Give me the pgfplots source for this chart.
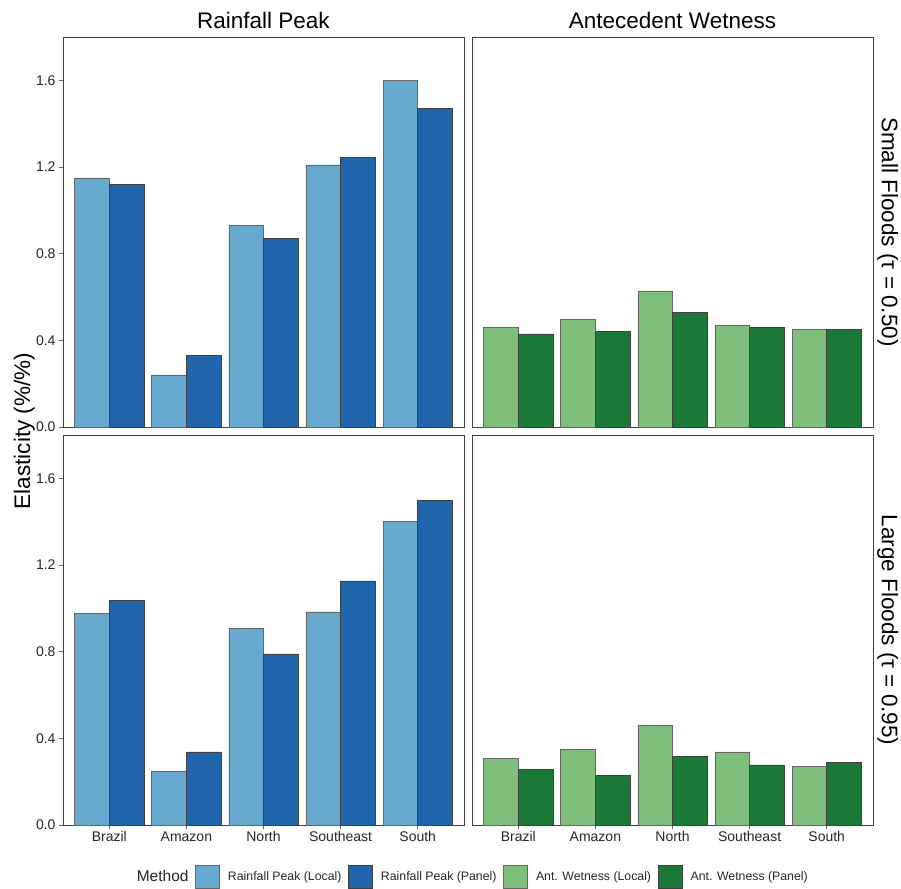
\documentclass[border=0pt]{standalone}
\usepackage{pgfplots}
\pgfplotsset{compat=1.18}
\usepackage{fontspec}
\setmainfont{Liberation Sans}
\definecolor{rpl}{HTML}{67A9CF}
\definecolor{rpp}{HTML}{2166AC}
\definecolor{awl}{HTML}{7FBF7B}
\definecolor{awp}{HTML}{1B7837}
\pgfplotsset{
  panel/.style={
    width=401pt, height=390pt, scale only axis, anchor=south west, clip=false,
    xmin=0.4, xmax=5.6, ymin=0, ymax=1.8,
    axis line style={draw=black!75, line width=0.7pt},
    tick align=outside, major tick length=4pt,
    tick style={draw=black!60, line width=0.6pt},
    xtick pos=bottom, ytick pos=left,
    ytick={0,0.4,0.8,1.2,1.6},
    yticklabel style={/pgf/number format/.cd, fixed, fixed zerofill, precision=1},
    /pgf/number format/assume math mode=true,
    tick label style={font=\fontsize{14}{16}\selectfont, text=black!85},
    xticklabel style={yshift=1pt},
    xtick={1,2,3,4,5}, xticklabels={Brazil,Amazon,North,Southeast,South},
  },
  barL/.style={ybar, bar width=0.45, bar shift=-0.225, draw=black!60, line width=0.5pt, forget plot},
  barP/.style={ybar, bar width=0.45, bar shift=0.225, draw=black!75, line width=0.5pt, forget plot},
  lgA/.style={legend image code/.code={\draw[fill=rpl,draw=black!60,line width=0.5pt] (0pt,-11.5pt) rectangle (24pt,11.5pt);}},
  lgB/.style={legend image code/.code={\draw[fill=rpp,draw=black!75,line width=0.5pt] (0pt,-11.5pt) rectangle (24pt,11.5pt);}},
  lgC/.style={legend image code/.code={\draw[fill=awl,draw=black!60,line width=0.5pt] (0pt,-11.5pt) rectangle (24pt,11.5pt);}},
  lgD/.style={legend image code/.code={\draw[fill=awp,draw=black!75,line width=0.5pt] (0pt,-11.5pt) rectangle (24pt,11.5pt);}},
}
\newcommand{\titlefont}{\fontsize{22.5}{26}\selectfont}
\begin{document}
\begin{tikzpicture}
\path[use as bounding box] (0pt,0pt) rectangle (901pt,888pt);
% top-left
\begin{axis}[panel, at={(63pt,461pt)}, xtick=\empty]
\addplot[barL, fill=rpl] coordinates {(1,1.15) (2,0.24) (3,0.93) (4,1.21) (5,1.60)};
\addplot[barP, fill=rpp] coordinates {(1,1.12) (2,0.33) (3,0.87) (4,1.245) (5,1.47)};
\node[font=\titlefont, anchor=base] at (rel axis cs:0.5,1) [yshift=8.5pt] {Rainfall Peak};
\end{axis}
% top-right
\begin{axis}[panel, at={(472pt,461pt)}, xtick=\empty, ytick=\empty]
\addplot[barL, fill=awl] coordinates {(1,0.46) (2,0.497) (3,0.628) (4,0.47) (5,0.45)};
\addplot[barP, fill=awp] coordinates {(1,0.43) (2,0.441) (3,0.529) (4,0.46) (5,0.45)};
\node[font=\titlefont, anchor=base] at (rel axis cs:0.5,1) [yshift=8.5pt] {Antecedent Wetness};
\node[xshift=4pt, rotate=-90, font=\titlefont, anchor=south, inner sep=0pt] at (rel axis cs:1,0.5) {Small Floods (τ = 0.50)};
\end{axis}
% bottom-left
\begin{axis}[panel, at={(63pt,63pt)},
  legend style={draw=none, fill=none, at={(1.0125,-0.1333)}, anchor=center,
    font=\fontsize{12.3}{14}\selectfont, text=black!85,
    /tikz/every odd column/.append style={column sep=6.5pt},
    /tikz/every even column/.append style={column sep=4.5pt}},
  legend columns=5, legend cell align=left]
\addlegendimage{empty legend}
\addlegendentry{\fontsize{15.5}{17}\selectfont Method}
\addlegendimage{lgA}
\addlegendentry{Rainfall Peak (Local)}
\addlegendimage{lgB}
\addlegendentry{Rainfall Peak (Panel)}
\addlegendimage{lgC}
\addlegendentry{Ant. Wetness (Local)}
\addlegendimage{lgD}
\addlegendentry{Ant. Wetness (Panel)}
\addplot[barL, fill=rpl] coordinates {(1,0.975) (2,0.248) (3,0.908) (4,0.984) (5,1.40)};
\addplot[barP, fill=rpp] coordinates {(1,1.037) (2,0.338) (3,0.79) (4,1.127) (5,1.497)};
\node[xshift=-33pt, yshift=4pt, rotate=90, font=\titlefont, anchor=base] at (rel axis cs:0,1) {Elasticity (\%/\%)};
\end{axis}
% bottom-right
\begin{axis}[panel, at={(472pt,63pt)}, ytick=\empty]
\addplot[barL, fill=awl] coordinates {(1,0.309) (2,0.348) (3,0.46) (4,0.338) (5,0.269)};
\addplot[barP, fill=awp] coordinates {(1,0.257) (2,0.228) (3,0.318) (4,0.278) (5,0.289)};
\node[xshift=4pt, rotate=-90, font=\titlefont, anchor=south, inner sep=0pt] at (rel axis cs:1,0.5) {Large Floods (τ = 0.95)};
\end{axis}
\end{tikzpicture}
\end{document}
